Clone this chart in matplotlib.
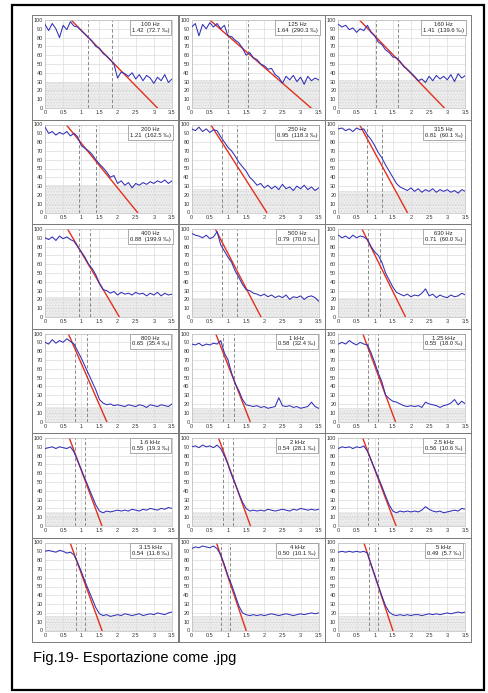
import numpy as np
import matplotlib
matplotlib.use('Agg')
from matplotlib import pyplot as plt
from matplotlib.patches import Rectangle

plt.rcParams['font.family'] = ['Liberation Sans', 'DejaVu Sans']
plt.rcParams['hatch.linewidth'] = 0.3

# time axis shared by all traces (s)
times = np.round(np.arange(36) * 0.1, 1)

freqs = ['100 Hz', '125 Hz', '160 Hz', '200 Hz', '250 Hz', '315 Hz',
         '400 Hz', '500 Hz', '630 Hz', '800 Hz', '1 kHz', '1.25 kHz',
         '1.6 kHz', '2 kHz', '2.5 kHz', '3.15 kHz', '4 kHz', '5 kHz']
t_vals = [1.42, 1.64, 1.41, 1.21, 0.95, 0.81, 0.88, 0.79, 0.71,
          0.65, 0.58, 0.55, 0.55, 0.54, 0.56, 0.54, 0.50, 0.49]
permille = [72.7, 290.3, 139.6, 162.5, 118.3, 60.1, 199.9, 70.0, 60.0,
            35.4, 32.4, 18.0, 19.3, 28.1, 10.6, 11.8, 10.1, 5.7]

# dashed markers (s)
mark_a = [1.18, 0.99, 1.04, 0.93, 0.83, 0.80, 0.95, 0.84, 0.81,
          0.84, 0.85, 0.81, 0.82, 0.85, 0.81, 0.85, 0.80, 0.84]
mark_b = [1.85, 1.54, 1.63, 1.41, 1.24, 1.20, 1.24, 1.24, 1.15,
          1.15, 1.16, 1.08, 1.11, 1.15, 1.10, 1.11, 1.05, 1.08]

# regression line: time at 100 and time at 0
red_start = [0.72, 0.50, 0.58, 0.58, 0.52, 0.58, 0.62, 0.65, 0.65,
             0.64, 0.66, 0.67, 0.67, 0.74, 0.67, 0.69, 0.68, 0.70]
red_end = [3.10, 3.29, 2.92, 2.55, 2.07, 1.90, 2.05, 1.91, 1.85,
           1.70, 1.61, 1.57, 1.57, 1.62, 1.59, 1.57, 1.50, 1.50]

# noise floor level (grey band)
floor = [30, 32, 32, 31, 27, 24, 23, 22, 22,
         17, 15, 15, 16, 16, 16, 17, 16, 16]

curves = [
    [95, 88, 96, 90, 80, 94, 89, 98, 93, 92, 88, 84, 80, 76, 70, 68, 62, 59,
     55, 50, 34, 41, 39, 36, 40, 33, 38, 31, 37, 34, 28, 35, 31, 38, 29, 33],
    [92, 96, 82, 95, 90, 97, 92, 96, 90, 94, 82, 81, 77, 74, 68, 60, 63, 57,
     55, 50, 48, 44, 45, 38, 35, 28, 36, 32, 37, 30, 35, 27, 36, 31, 34, 32],
    [95, 92, 94, 89, 91, 86, 90, 88, 94, 86, 82, 75, 72, 66, 63, 58, 57, 53,
     47, 44, 40, 36, 31, 33, 29, 36, 31, 37, 33, 36, 32, 38, 30, 39, 34, 37],
    [97, 90, 92, 88, 91, 89, 92, 87, 90, 86, 76, 73, 70, 66, 60, 55, 51, 46,
     40, 42, 33, 36, 31, 34, 28, 33, 31, 34, 32, 35, 33, 36, 34, 37, 33, 36],
    [95, 93, 97, 92, 95, 91, 94, 93, 86, 80, 74, 70, 64, 57, 52, 47, 40, 36,
     31, 33, 28, 31, 27, 30, 26, 32, 27, 29, 25, 30, 27, 31, 26, 29, 25, 28],
    [95, 96, 93, 95, 92, 96, 94, 95, 88, 83, 76, 68, 62, 54, 47, 40, 33, 29,
     27, 25, 28, 24, 27, 23, 26, 24, 27, 23, 26, 24, 26, 23, 25, 22, 26, 24],
    [90, 88, 91, 87, 92, 89, 91, 88, 86, 80, 74, 68, 60, 55, 48, 38, 31, 30,
     27, 29, 25, 28, 26, 27, 25, 28, 26, 27, 24, 27, 25, 28, 24, 27, 25, 26],
    [95, 93, 92, 90, 93, 89, 91, 97, 82, 75, 68, 62, 52, 45, 37, 31, 30, 27,
     26, 24, 26, 23, 25, 22, 24, 22, 25, 20, 23, 22, 24, 20, 23, 24, 22, 18],
    [93, 90, 92, 89, 93, 90, 92, 91, 88, 80, 74, 70, 62, 50, 42, 34, 28, 26,
     24, 26, 23, 25, 24, 27, 32, 24, 26, 22, 25, 23, 22, 25, 23, 24, 27, 25],
    [90, 88, 93, 89, 92, 90, 94, 91, 88, 80, 72, 63, 54, 45, 36, 25, 21, 19,
     20, 18, 19, 18, 17, 19, 18, 17, 19, 18, 16, 19, 18, 17, 19, 18, 17, 20],
    [88, 87, 89, 86, 88, 87, 89, 88, 92, 78, 70, 55, 43, 35, 25, 19, 18, 17,
     18, 16, 17, 15, 16, 17, 27, 18, 17, 18, 16, 17, 15, 16, 17, 22, 17, 15],
    [88, 90, 88, 92, 89, 87, 90, 88, 87, 78, 67, 55, 45, 30, 26, 23, 22, 20,
     18, 17, 18, 17, 18, 16, 22, 20, 19, 18, 16, 18, 19, 21, 25, 19, 23, 20],
    [88, 89, 90, 88, 90, 89, 88, 90, 84, 74, 64, 54, 44, 34, 24, 17, 15, 17,
     16, 17, 18, 17, 18, 17, 19, 18, 17, 19, 18, 20, 19, 18, 20, 19, 21, 20],
    [90, 91, 89, 92, 90, 91, 89, 92, 88, 80, 70, 58, 48, 37, 27, 20, 17, 18,
     17, 18, 17, 19, 18, 17, 18, 19, 18, 17, 19, 18, 20, 19, 18, 19, 18, 19],
    [88, 90, 89, 90, 88, 90, 89, 91, 85, 75, 65, 55, 45, 34, 24, 17, 15, 17,
     16, 17, 16, 17, 16, 18, 22, 19, 17, 16, 17, 15, 16, 17, 18, 17, 20, 19],
    [90, 91, 90, 89, 91, 90, 88, 89, 86, 77, 67, 56, 46, 36, 26, 19, 17, 18,
     16, 17, 18, 17, 19, 18, 17, 18, 19, 17, 18, 19, 18, 20, 19, 18, 20, 21],
    [93, 95, 94, 96, 95, 94, 96, 93, 86, 75, 62, 52, 40, 28, 20, 18, 17, 18,
     17, 18, 17, 18, 19, 18, 17, 18, 19, 18, 17, 18, 19, 18, 19, 20, 19, 20],
    [89, 90, 89, 90, 89, 90, 89, 90, 88, 75, 63, 51, 39, 28, 21, 18, 17, 18,
     17, 18, 17, 18, 18, 17, 18, 19, 18, 19, 18, 19, 20, 19, 20, 21, 20, 21],
]

W, H = 489, 693
fig = plt.figure(figsize=(W / 100, H / 100), dpi=100)

# outer border
fig.add_artist(Rectangle((12 / W, 1 - 690 / H), 472 / W, 685 / H,
                         transform=fig.transFigure, fill=False,
                         edgecolor='black', lw=1.6))

for i in range(18):
    r, c = divmod(i, 3)
    # panel frame
    fx, fy = 32 + 146.5 * c, 15 + 104.5 * r
    fig.add_artist(Rectangle((fx / W, 1 - (fy + 104.5) / H), 146.5 / W, 104.5 / H,
                             transform=fig.transFigure, fill=False,
                             edgecolor='#7a7a7a', lw=0.7))
    ax_l, ax_t = 45 + 146.7 * c, 20 + 104.5 * r
    ax = fig.add_axes([ax_l / W, 1 - (ax_t + 88) / H, 127 / W, 88 / H])

    ax.axhspan(0, floor[i], facecolor='#ececec', edgecolor='#cfcfcf',
               hatch='......', lw=0, zorder=0)
    ax.plot([red_start[i], red_end[i]], [100, 0], color='#e3301c', lw=1.0, zorder=2)
    ax.plot(times, curves[i], color='#3030b8', lw=0.75, zorder=3)
    for m in (mark_a[i], mark_b[i]):
        ax.axvline(m, color='#777777', lw=0.6, ls=(0, (4, 2.5)), zorder=1)

    ax.set_xlim(0, 3.5)
    ax.set_ylim(0, 100)
    ax.set_xticks(np.arange(0, 3.51, 0.5))
    ax.set_xticklabels(['0', '0.5', '1', '1.5', '2', '2.5', '3', '3.5'])
    ax.set_yticks(np.arange(0, 101, 10))
    ax.grid(True, color='#dcdcdc', lw=0.5, zorder=0)
    ax.set_axisbelow(True)
    ax.tick_params(labelsize=4, length=0, pad=1.5, colors='#333333')
    for s in ax.spines.values():
        s.set_color('#bdbdbd')
        s.set_linewidth(0.5)

    ax.text(0.83, 0.975, f'{freqs[i]}\n{t_vals[i]:.2f}  ({permille[i]:.1f} ‰)',
            transform=ax.transAxes, ha='center', va='top', fontsize=4.2,
            multialignment='center', color='#222222', zorder=5,
            bbox=dict(boxstyle='square,pad=0.35', fc='white', ec='#8a8a8a', lw=0.5))

fig.text(33 / W, 1 - 658 / H, 'Fig.19- Esportazione come .jpg',
         fontsize=10.5, ha='left', va='center', color='black')

fig.savefig('out.png', dpi=100)
